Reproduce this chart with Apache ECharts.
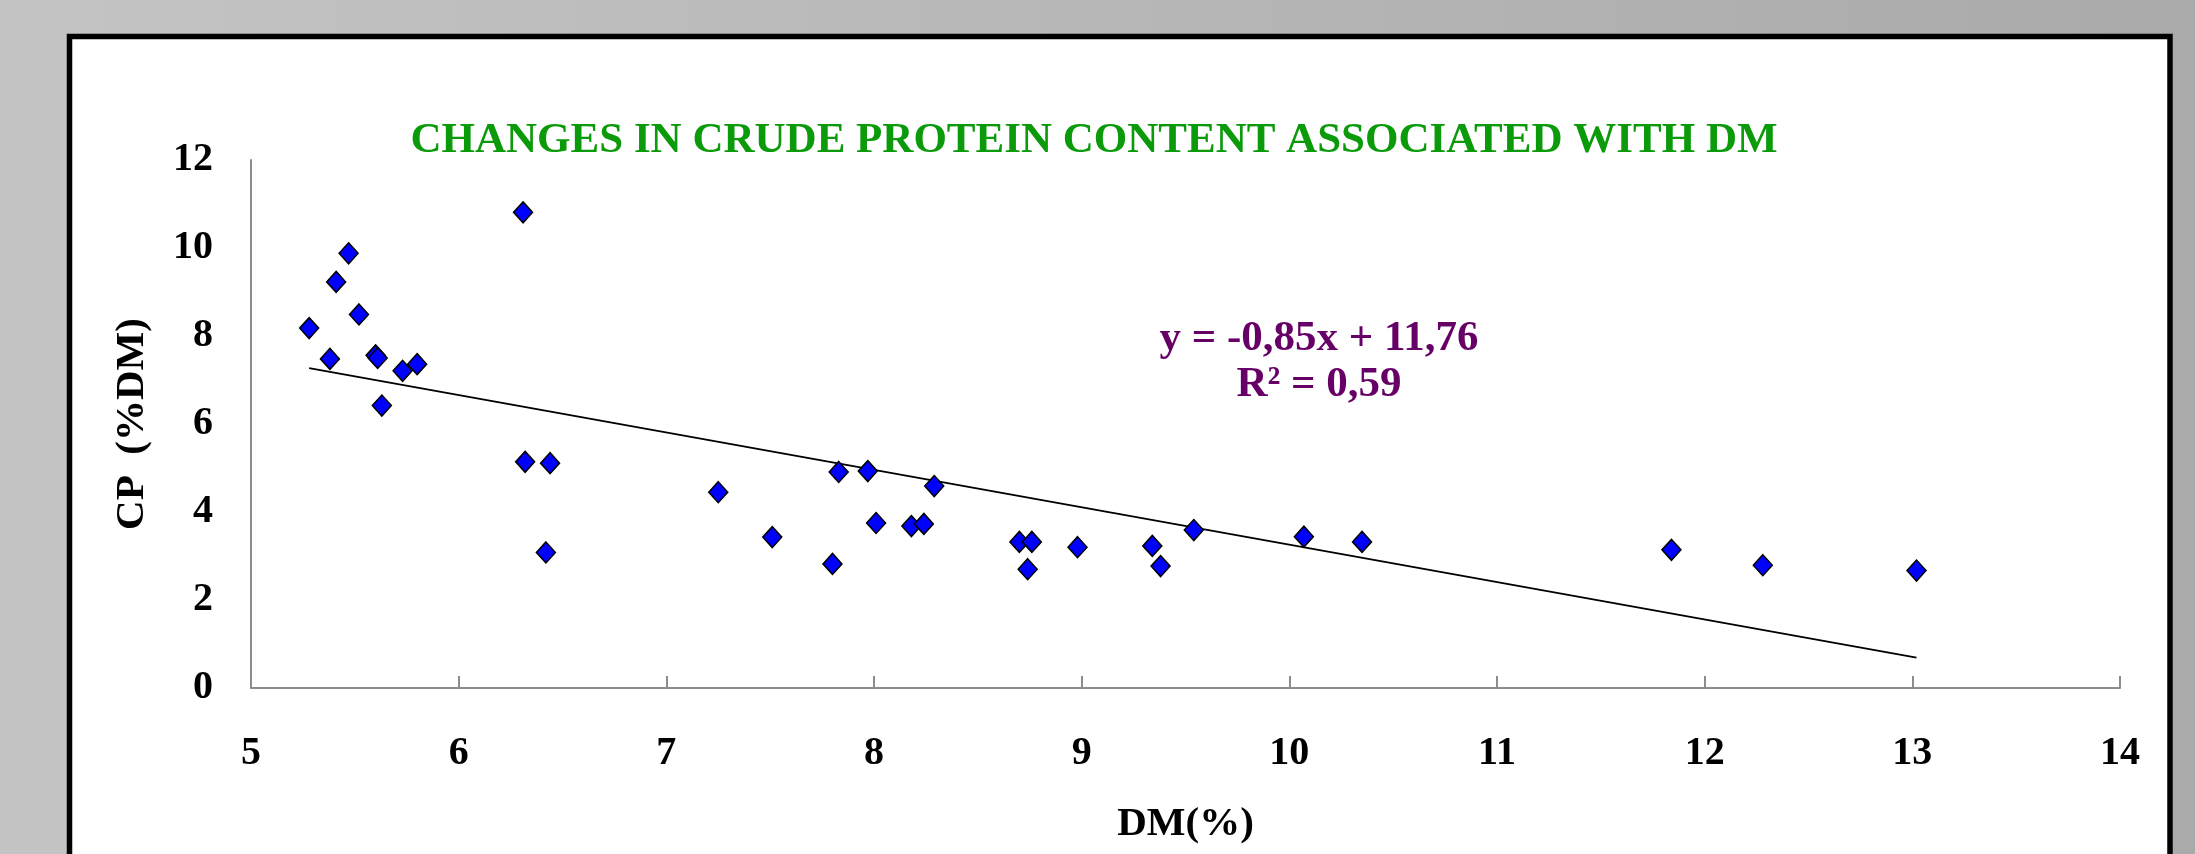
<!DOCTYPE html>
<html>
<head>
<meta charset="utf-8">
<title>Changes in crude protein content associated with DM</title>
<script src="https://cdn.jsdelivr.net/npm/echarts@6/dist/echarts.min.js"></script>
<style>
  html, body { margin: 0; padding: 0; }
  #chart { width: 2195px; height: 854px; }
</style>
</head>
<body>
<div id="chart"></div>
<script>
// dry matter (%) of each sample
const dmValues = [
  5.28, 5.38, 5.41, 5.47, 5.52, 5.60, 5.61, 5.63, 5.73, 5.80,
  6.31, 6.32, 6.44, 6.42, 7.25, 7.51, 7.80, 7.83, 7.97, 8.01,
  8.18, 8.24, 8.29, 8.70, 8.74, 8.76, 8.98, 9.34, 9.38, 9.54,
  10.07, 10.35, 11.84, 12.28, 13.02,
];
// crude protein (%DM) of each sample
const cpValues = [
  8.18, 7.48, 9.23, 9.88, 8.49, 7.56, 7.50, 6.42, 7.21, 7.36,
  10.81, 5.14, 5.11, 3.08, 4.45, 3.43, 2.82, 4.91, 4.93, 3.75,
  3.68, 3.73, 4.59, 3.32, 2.70, 3.32, 3.20, 3.23, 2.77, 3.59,
  3.44, 3.32, 3.14, 2.79, 2.67,
];
// linear trend line end points
const trendX = [5.28, 13.02];
const trendY = [7.27, 0.69];

const xTicks = { min: 5, max: 14, step: 1 };
const yTicks = { min: 0, max: 12, step: 2 };

const titleText = "CHANGES IN CRUDE PROTEIN CONTENT ASSOCIATED WITH DM";
const equationText = "y = -0,85x + 11,76";
const r2Text = "R\u00B2 = 0,59";

const serif = "'Liberation Serif', 'Times New Roman', serif";

document.addEventListener("DOMContentLoaded", function () {
  const chart = echarts.init(document.getElementById("chart"));

  const points = dmValues.map((x, i) => [x, cpValues[i]]);
  const trend = trendX.map((x, i) => [x, trendY[i]]);

  const option = {
    animation: false,
    backgroundColor: new echarts.graphic.LinearGradient(0, 0, 1, 0, [
      { offset: 0, color: "#c4c4c4" },
      { offset: 1, color: "#aaaaaa" },
    ]),
    graphic: [
      {
        type: "rect",
        z: -10,
        shape: { x: 69.5, y: 36.5, width: 2100.5, height: 860 },
        style: { fill: "#ffffff", stroke: "#000000", lineWidth: 5.5 },
      },
      {
        type: "text",
        z: 10,
        style: {
          x: 1319,
          y: 339,
          text: equationText,
          fill: "#660066",
          font: "bold 43px " + serif,
          textAlign: "center",
          textVerticalAlign: "middle",
        },
      },
      {
        type: "text",
        z: 10,
        style: {
          x: 1319,
          y: 385,
          text: r2Text,
          fill: "#660066",
          font: "bold 43px " + serif,
          textAlign: "center",
          textVerticalAlign: "middle",
        },
      },
    ],
    title: {
      text: titleText,
      left: 1089,
      top: 114,
      textAlign: "center",
      textStyle: {
        color: "#0a9a0a",
        fontFamily: serif,
        fontWeight: "bold",
        fontSize: 43,
      },
    },
    grid: {
      left: 251,
      right: 75,
      top: 160,
      bottom: 166,
    },
    xAxis: {
      type: "value",
      min: xTicks.min,
      max: xTicks.max,
      interval: xTicks.step,
      name: "DM(%)",
      nameLocation: "middle",
      nameGap: 116,
      nameTextStyle: {
        color: "#000",
        fontFamily: serif,
        fontWeight: "bold",
        fontSize: 41,
      },
      axisLine: { lineStyle: { color: "#8c8c8c", width: 2 } },
      axisTick: {
        show: true,
        inside: true,
        length: 12,
        lineStyle: { color: "#8c8c8c", width: 2 },
      },
      splitLine: { show: false },
      axisLabel: {
        color: "#000",
        fontFamily: serif,
        fontWeight: "bold",
        fontSize: 40,
        margin: 46,
      },
    },
    yAxis: {
      type: "value",
      min: yTicks.min,
      max: yTicks.max,
      interval: yTicks.step,
      name: "CP  (%DM)",
      nameLocation: "middle",
      nameGap: 98,
      nameTextStyle: {
        color: "#000",
        fontFamily: serif,
        fontWeight: "bold",
        fontSize: 41,
      },
      axisLine: { show: true, lineStyle: { color: "#8c8c8c", width: 2 } },
      axisTick: { show: false },
      splitLine: { show: false },
      axisLabel: {
        color: "#000",
        fontFamily: serif,
        fontWeight: "bold",
        fontSize: 40,
        margin: 38,
      },
    },
    series: [
      {
        name: "Trend",
        type: "line",
        data: trend,
        symbol: "none",
        silent: true,
        z: 2,
        lineStyle: { color: "#000000", width: 2 },
      },
      {
        name: "CP",
        type: "scatter",
        data: points,
        symbol: "diamond",
        symbolSize: [19, 21],
        z: 3,
        itemStyle: {
          color: "#0000ff",
          borderColor: "#000000",
          borderWidth: 1.5,
          opacity: 1,
        },
      },
    ],
  };
  chart.setOption(option);
});
</script>
</body>
</html>
